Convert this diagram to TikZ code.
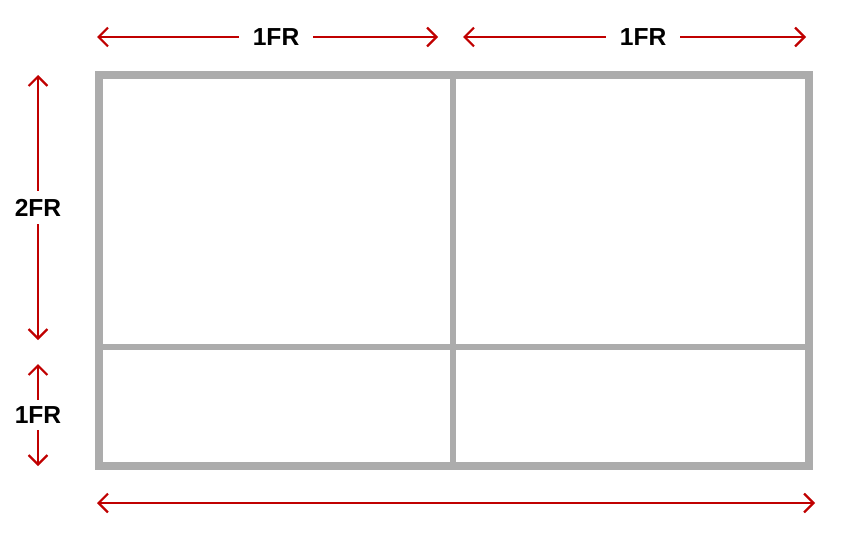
\documentclass[tikz,border=0pt]{standalone}
\usepackage{fontspec}
\setsansfont{Liberation Sans}
\usepackage{xcolor}
\usetikzlibrary{arrows.meta,positioning}

\definecolor{gridgray}{RGB}{172,172,172}
\definecolor{dimred}{RGB}{192,0,0}

\begin{document}
\begin{tikzpicture}[
    x=0.03cm, y=-0.03cm,
    frame/.style={draw=gridgray, line width=7.6pt},
    track/.style={draw=gridgray, line width=4.8pt},
    dim/.style={draw=dimred, line width=1.9pt, {Straight Barb[length=8pt,width=16pt]}-{Straight Barb[length=8pt,width=16pt]}},
    size/.style={fill=white, inner xsep=12pt, inner ysep=4pt, font=\sffamily\bfseries\fontsize{21}{21}\selectfont}
]
    \useasboundingbox (0,0) rectangle (851,534);

    % grid container
    \coordinate (tl) at (99,75);
    \coordinate (br) at (809,466);
    \draw[track] (453,75) -- (453,466);
    \draw[track] (99,347) -- (809,347);
    \draw[frame] (tl) rectangle (br);

    % column sizes
    \coordinate (c1l) at (97,37);
    \coordinate (c1r) at (438,37);
    \coordinate (c2l) at (463,37);
    \coordinate (c2r) at (806,37);
    \draw[dim] (c1l) -- node[size, pos=0.525] (col1) {1FR} (c1r);
    \draw[dim] (c2l) -- node[size, pos=0.525] (col2) {1FR} (c2r);

    % row sizes
    \coordinate (r1t) at (38,75);
    \coordinate (r1b) at (38,340);
    \coordinate (r2t) at (38,364);
    \coordinate (r2b) at (38,466);
    \draw[dim] (r1t) -- node[size, inner xsep=2pt, inner ysep=7pt] (row1) {2FR} (r1b);
    \draw[dim] (r2t) -- node[size, inner xsep=2pt, inner ysep=6pt] (row2) {1FR} (r2b);

    % full width
    \coordinate (wl) at (97,503);
    \coordinate (wr) at (815,503);
    \draw[dim] (wl) -- (wr);
\end{tikzpicture}
\end{document}
